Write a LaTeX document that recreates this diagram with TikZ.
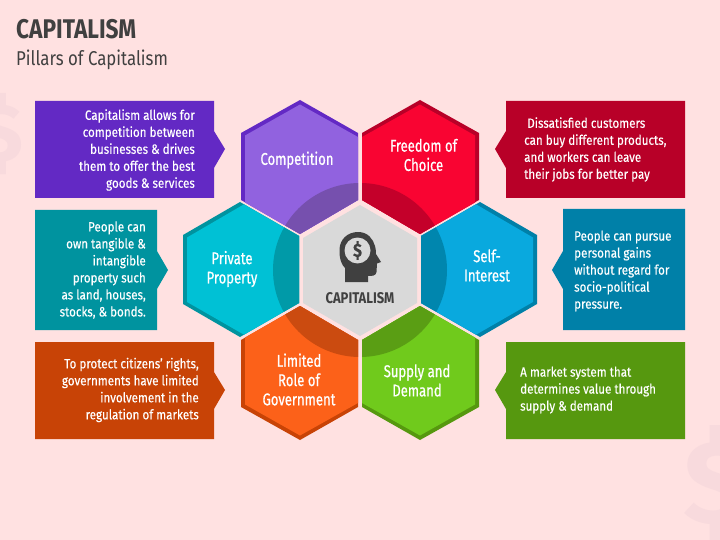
\documentclass[tikz,border=0pt]{standalone}
\usepackage{fontspec}
\setmainfont[FakeStretch=0.86,FakeBold=0.25]{Fira Sans}
\newfontfamily\hexfont[FakeStretch=0.77,FakeBold=0.6]{Fira Sans}
\newfontfamily\titlefont[FakeStretch=0.84]{Fira Sans}
\newfontfamily\ghostfont{Fira Sans}
\definecolor{bg}{HTML}{FFE1E1}
\definecolor{ghost}{HTML}{F8DADD}
\definecolor{ink}{HTML}{404040}
\definecolor{pD}{HTML}{6329C4}\definecolor{pL}{HTML}{9162DF}\definecolor{pO}{HTML}{7650AE}
\definecolor{rD}{HTML}{B80028}\definecolor{rL}{HTML}{F90432}\definecolor{rO}{HTML}{C4002A}
\definecolor{tD}{HTML}{00939F}\definecolor{tL}{HTML}{00C1D5}\definecolor{tO}{HTML}{009AA8}
\definecolor{bD}{HTML}{0080A8}\definecolor{bL}{HTML}{09A9DE}\definecolor{bO}{HTML}{0086AE}
\definecolor{oD}{HTML}{C84306}\definecolor{oL}{HTML}{FC6119}\definecolor{oO}{HTML}{CB4B10}
\definecolor{gD}{HTML}{56980F}\definecolor{gL}{HTML}{70CA1C}\definecolor{gO}{HTML}{5A9E14}
\tikzset{
  boxtext/.style={text=white,font=\fontsize{13.5}{17}\selectfont,inner sep=0pt},
  hextext/.style={text=white,font=\hexfont\fontsize{17}{19.3}\selectfont,align=center,inner sep=0pt},
}
\begin{document}
\begin{tikzpicture}[x=1pt,y=-1pt]
\fill[bg] (0,0) rectangle (720,540);
\useasboundingbox (0,0) rectangle (720,540);
\begin{scope}
\clip (0,0) rectangle (720,540);
\node[text=ghost,inner sep=0pt,font=\ghostfont\fontsize{82}{82}\selectfont\bfseries] (dollarA) at (1,134) {\$};
\node[text=ghost,inner sep=0pt,font=\ghostfont\fontsize{118}{118}\selectfont\bfseries] (dollarB) at (716,484) {\$};
\end{scope}
\node[anchor=west,text=ink,inner sep=0pt,font=\titlefont\fontsize{27}{30}\selectfont\bfseries] (title) at (16,29) {CAPITALISM};
\node[anchor=west,text=ink,inner sep=0pt,font=\titlefont\fontsize{20}{22}\selectfont] (subtitle) at (16,60) {Pillars of Capitalism};
% callouts
\fill[pD] (35,101)--(214,101)--(214,131)--(225,149)--(214,168)--(214,198)--(35,198)--cycle;
\fill[tD] (35,210)--(157,210)--(157,251)--(168,270)--(157,289)--(157,330)--(35,330)--cycle;
\fill[oD] (35,342)--(214,342)--(214,372)--(225,390)--(214,409)--(214,439)--(35,439)--cycle;
\fill[rD] (685,101)--(506,101)--(506,131)--(495,149)--(506,168)--(506,198)--(685,198)--cycle;
\fill[bD] (685,209)--(563,209)--(563,251)--(552,270)--(563,289)--(563,330)--(685,330)--cycle;
\fill[gD] (685,342)--(506,342)--(506,372)--(495,390)--(506,409)--(506,439)--(685,439)--cycle;
% hexagons
\def\circ{(360,270) circle (87)}
% competition
\fill[pD] (300,100)--(358,133)--(358,200)--(300,234)--(241,200)--(241,133)--cycle;
\fill[pL] (300,104.5)--(358,137)--(358,200)--(300,234)--(245,202.5)--(245,135.5)--cycle;
\begin{scope}\clip (300,104.5)--(358,137)--(358,200)--(300,234)--(245,202.5)--(245,135.5)--cycle;\fill[pO] \circ;\end{scope}
% freedom
\fill[rD] (420,100)--(479,133)--(479,200)--(420,234)--(362,200)--(362,133)--cycle;
\fill[rL] (420,104.5)--(475,135.5)--(475,202.5)--(420,234)--(362,200)--(362,137)--cycle;
\begin{scope}\clip (420,104.5)--(475,135.5)--(475,202.5)--(420,234)--(362,200)--(362,137)--cycle;\fill[rO] \circ;\end{scope}
% private
\fill[tD] (240,202)--(299,236)--(299,303)--(240,337)--(183,304)--(183,235)--cycle;
\fill[tL] (244,204.3)--(299,236)--(299,303)--(244,334.7)--(187,302)--(187,237.5)--cycle;
\begin{scope}\clip (244,204.3)--(299,236)--(299,303)--(244,334.7)--(187,302)--(187,237.5)--cycle;\fill[tO] \circ;\end{scope}
% self
\fill[bD] (480,202)--(537,235)--(537,304)--(480,337)--(421,303)--(421,236)--cycle;
\fill[bL] (476,204.3)--(533,237.5)--(533,302)--(476,334.7)--(421,303)--(421,236)--cycle;
\begin{scope}\clip (476,204.3)--(533,237.5)--(533,302)--(476,334.7)--(421,303)--(421,236)--cycle;\fill[bO] \circ;\end{scope}
% limited
\fill[oD] (300,306)--(358,340)--(358,407)--(300,440)--(241,407)--(241,340)--cycle;
\fill[oL] (300,306)--(358,340)--(358,403)--(300,435.5)--(245,404.5)--(245,337.5)--cycle;
\begin{scope}\clip (300,306)--(358,340)--(358,403)--(300,435.5)--(245,404.5)--(245,337.5)--cycle;\fill[oO] \circ;\end{scope}
% supply
\fill[gD] (420,306)--(479,340)--(479,407)--(420,440)--(362,407)--(362,340)--cycle;
\fill[gL] (420,306)--(475,337.5)--(475,404.5)--(420,435.5)--(362,403)--(362,340)--cycle;
\begin{scope}\clip (420,306)--(475,337.5)--(475,404.5)--(420,435.5)--(362,403)--(362,340)--cycle;\fill[gO] \circ;\end{scope}
% centre
\fill[black!15] (360,205)--(417,238)--(417,303)--(360,336)--(303,303)--(303,238)--cycle;
% head icon
\fill[ink] (345,282)--(345,268)
  .. controls (339,262) and (339.5,252) .. (339.5,250)
  .. controls (339.5,239) and (348,232) .. (358,232)
  .. controls (368,232) and (373,239) .. (375,246)
  .. controls (376,250) and (376,252) .. (376,254)
  -- (381,262) -- (377,263.5) -- (376.5,272)
  .. controls (376,276) and (372,276) .. (368,276) -- (368,282) -- cycle;
\fill[black!15] (357.5,250.5) circle (13);
\node[text=ink,inner sep=0pt,font=\fontsize{19}{19}\selectfont\bfseries] (dollarC) at (357.5,250.5) {\$};
\node[text=ink,inner sep=0pt,font=\titlefont\fontsize{15.5}{16}\selectfont\bfseries] (centrelabel) at (360,298) {CAPITALISM};
% hex labels
\node[hextext] (n1) at (297,160) {Competition};
\node[hextext] (n2) at (423.5,155) {Freedom of\\Choice};
\node[hextext] (n3) at (232,269) {Private\\Property};
\node[hextext] (n4) at (487,265.5) {Self-\\Interest};
\node[hextext] (n5) at (299,379.5) {Limited\\Role of\\Government};
\node[hextext] (n6) at (417,380.5) {Supply and\\Demand};
% box texts
\node[boxtext,align=right,anchor=east] (t1) at (195,150) {Capitalism allows for\\competition between\\businesses \& drives\\them to offer the best\\goods \& services};
\node[boxtext,align=right,anchor=east] (t2) at (146,270) {People can\\own tangible \&\\intangible\\property such\\as land, houses,\\stocks, \& bonds.};
\node[boxtext,align=right,anchor=east] (t3) at (199,390) {To protect citizens' rights,\\governments have limited\\involvement in the\\regulation of markets};
\node[boxtext,align=left,anchor=west] (t4) at (524,149.5) {\ Dissatisfied customers\\can buy different products,\\and workers can leave\\their jobs for better pay};
\node[boxtext,align=left,anchor=west] (t5) at (574,271) {People can pursue\\personal gains\\without regard for\\socio-political\\pressure.};
\node[boxtext,align=left,anchor=west] (t6) at (520,390) {A market system that\\determines value through\\supply \& demand};
\end{tikzpicture}
\end{document}
